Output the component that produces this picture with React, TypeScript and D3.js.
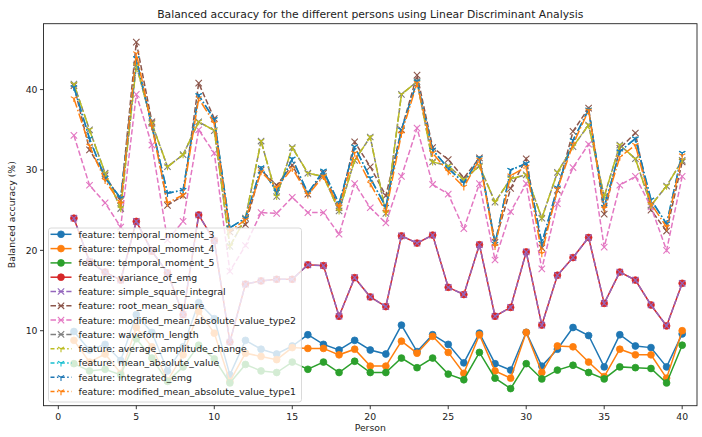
import React from "react";
import * as d3 from "d3";

const persons: number[] = Array.from({ length: 40 }, (_, i) => i + 1);
const xTicks = [0, 5, 10, 15, 20, 25, 30, 35, 40];
const yTicks = [10, 20, 30, 40];

const temporalMoment3 = [9.9, 7.6, 8.3, 6.3, 12.0, 9.8, 5.0, 8.0, 13.5, 11.5, 4.5, 8.8, 7.7, 7.1, 8.1, 9.5, 8.3, 7.6, 8.8, 7.6, 7.1, 10.7, 7.4, 9.5, 8.3, 6.0, 9.7, 5.9, 5.1, 9.8, 5.6, 7.7, 10.4, 9.4, 5.5, 9.5, 8.1, 7.9, 5.5, 9.6];
const temporalMoment4 = [8.8, 6.1, 7.1, 4.7, 10.4, 8.0, 3.8, 7.0, 12.4, 9.7, 3.7, 7.2, 6.8, 6.4, 7.9, 7.8, 7.8, 7.0, 7.7, 5.6, 5.6, 8.7, 7.2, 9.3, 7.3, 4.7, 9.5, 5.0, 4.1, 9.8, 4.8, 8.1, 8.0, 6.1, 4.3, 7.7, 7.0, 7.0, 4.1, 10.0];
const temporalMoment5 = [5.9, 5.0, 5.2, 4.5, 9.0, 6.6, 3.7, 5.5, 8.2, 6.5, 3.5, 5.8, 5.0, 4.8, 6.1, 5.2, 6.1, 4.8, 6.2, 4.8, 4.8, 6.6, 5.4, 6.6, 4.6, 3.9, 7.3, 4.1, 2.8, 5.9, 4.0, 5.1, 5.7, 4.8, 4.0, 5.5, 5.4, 5.3, 3.5, 8.2];
const varianceOfEmg = [24.0, 18.6, 17.3, 16.3, 23.6, 19.9, 17.2, 12.0, 24.4, 21.2, 8.6, 15.8, 16.2, 16.4, 16.4, 18.2, 18.1, 11.8, 16.6, 14.2, 13.0, 21.8, 20.9, 21.9, 15.4, 14.5, 20.7, 11.8, 12.9, 19.8, 10.7, 16.9, 19.1, 21.6, 13.4, 17.3, 16.3, 13.2, 10.6, 15.9];
const simpleSquareIntegral = varianceOfEmg.slice();
const rootMeanSquare = [40.5, 32.5, 29.3, 26.2, 45.9, 36.0, 25.6, 26.8, 40.8, 36.4, 22.3, 23.2, 30.0, 28.1, 30.6, 27.0, 29.6, 25.3, 33.5, 30.4, 26.8, 35.0, 41.8, 32.8, 31.3, 29.0, 31.5, 21.0, 27.7, 31.4, 20.3, 27.5, 34.8, 37.7, 24.5, 32.7, 34.6, 25.0, 22.4, 31.0];
const modifiedMav2 = [34.3, 28.1, 25.9, 22.9, 39.4, 33.1, 21.3, 23.6, 35.0, 32.1, 17.4, 20.6, 24.7, 24.6, 26.6, 24.7, 24.7, 22.0, 28.3, 25.3, 23.4, 29.2, 35.2, 28.2, 27.0, 22.7, 28.3, 18.8, 24.8, 28.3, 17.7, 25.8, 30.3, 33.2, 20.4, 28.1, 29.2, 25.4, 20.0, 29.2];
const averageAmplitudeChange = [40.7, 35.0, 29.6, 25.2, 43.0, 35.8, 30.4, 31.9, 36.0, 34.9, 20.5, 24.0, 33.6, 26.7, 32.8, 29.6, 29.2, 24.9, 31.2, 34.1, 24.6, 39.4, 41.0, 31.0, 30.5, 28.8, 30.5, 26.0, 28.9, 29.4, 24.0, 29.7, 32.9, 35.6, 26.7, 33.1, 31.4, 25.6, 28.0, 31.2];
const waveformLength = averageAmplitudeChange.slice();
const integratedEmg = [40.3, 33.9, 29.0, 26.5, 43.9, 35.4, 27.1, 27.5, 39.3, 36.3, 22.8, 24.0, 30.3, 27.3, 31.4, 27.1, 29.9, 25.8, 32.9, 29.0, 25.4, 35.0, 41.0, 32.5, 30.2, 28.4, 31.5, 20.8, 30.0, 30.8, 20.9, 27.8, 33.7, 37.5, 25.4, 32.3, 33.9, 26.3, 23.3, 32.1];
const meanAbsoluteValue = integratedEmg.slice();
const modifiedMav1 = [38.9, 33.0, 28.7, 25.8, 44.5, 35.4, 25.9, 26.9, 38.9, 35.8, 22.4, 23.8, 29.8, 27.8, 30.2, 26.9, 29.2, 25.4, 32.1, 28.3, 24.8, 34.5, 40.8, 32.1, 29.8, 27.9, 31.3, 20.5, 29.3, 30.4, 19.6, 27.6, 33.2, 37.4, 25.2, 31.6, 33.1, 25.8, 22.9, 31.8];

type Series = { name: string; values: number[]; color: string; dash: string; marker: "o" | "x" | "1" };

const series: Series[] = [
  { name: "feature: temporal_moment_3", values: temporalMoment3, color: "#1f77b4", dash: "", marker: "o" },
  { name: "feature: temporal_moment_4", values: temporalMoment4, color: "#ff7f0e", dash: "", marker: "o" },
  { name: "feature: temporal_moment_5", values: temporalMoment5, color: "#2ca02c", dash: "", marker: "o" },
  { name: "feature: variance_of_emg", values: varianceOfEmg, color: "#d62728", dash: "", marker: "o" },
  { name: "feature: simple_square_integral", values: simpleSquareIntegral, color: "#9467bd", dash: "5.5,2.4", marker: "x" },
  { name: "feature: root_mean_square", values: rootMeanSquare, color: "#8c564b", dash: "5.5,2.4", marker: "x" },
  { name: "feature: modified_mean_absolute_value_type2", values: modifiedMav2, color: "#e377c2", dash: "5.5,2.4", marker: "x" },
  { name: "feature: waveform_length", values: waveformLength, color: "#7f7f7f", dash: "5.5,2.4", marker: "x" },
  { name: "feature: average_amplitude_change", values: averageAmplitudeChange, color: "#bcbd22", dash: "9.6,2.4,1.5,2.4", marker: "1" },
  { name: "feature: mean_absolute_value", values: meanAbsoluteValue, color: "#17becf", dash: "9.6,2.4,1.5,2.4", marker: "1" },
  { name: "feature: integrated_emg", values: integratedEmg, color: "#1f77b4", dash: "9.6,2.4,1.5,2.4", marker: "1" },
  { name: "feature: modified_mean_absolute_value_type1", values: modifiedMav1, color: "#ff7f0e", dash: "9.6,2.4,1.5,2.4", marker: "1" },
];

const W = 702;
const H = 437;
const left = 43.5;
const right = 697;
const top = 23.7;
const bottom = 405.7;

const FONT = "DejaVu Sans, sans-serif";
const FS = 9.3;

function Marker({ kind, x, y, color }: { kind: string; x: number; y: number; color: string }) {
  if (kind === "o") return <circle cx={x} cy={y} r={3.4} fill={color} stroke={color} strokeWidth={0.8} />;
  if (kind === "x") {
    const s = 3.2;
    return (
      <path d={`M${x - s},${y - s}L${x + s},${y + s}M${x - s},${y + s}L${x + s},${y - s}`} stroke={color} strokeWidth={1.1} fill="none" />
    );
  }
  const s = 3.6;
  return (
    <path
      d={`M${x},${y}L${x},${y + s}M${x},${y}L${x - s * 0.866},${y - s * 0.5}M${x},${y}L${x + s * 0.866},${y - s * 0.5}`}
      stroke={color}
      strokeWidth={1.1}
      fill="none"
    />
  );
}

export default function App() {
  const x = d3.scaleLinear().domain([-0.95, 40.95]).range([left, right]);
  const y = d3.scaleLinear().domain([0.67, 48.2]).range([bottom, top]);
  const line = d3
    .line<number>()
    .x((_, i) => x(persons[i]))
    .y((d) => y(d));

  const legX = 48.5;
  const legY = 228;
  const legW = 253;
  const rowH = 14.3;
  const legH = 174;

  return (
    <svg width={W} height={H} style={{ position: "absolute", left: 0, top: 0, background: "#fff" }} fontFamily={FONT}>
      <rect x={0} y={0} width={W} height={H} fill="#fff" />
      <defs>
        <clipPath id="plot">
          <rect x={left} y={top} width={right - left} height={bottom - top} />
        </clipPath>
      </defs>
      <g clipPath="url(#plot)">
        {series.map((s) => (
          <g key={s.name}>
            <path d={line(s.values) || ""} fill="none" stroke={s.color} strokeWidth={1.5} strokeDasharray={s.dash || undefined} />
            {s.values.map((v, i) => (
              <Marker key={i} kind={s.marker} x={x(persons[i])} y={y(v)} color={s.color} />
            ))}
          </g>
        ))}
      </g>
      <rect x={left} y={top} width={right - left} height={bottom - top} fill="none" stroke="#222" strokeWidth={0.9} />
      {xTicks.map((t) => (
        <g key={t}>
          <line x1={x(t)} x2={x(t)} y1={bottom} y2={bottom + 3.5} stroke="#222" strokeWidth={0.9} />
          <text x={x(t)} y={bottom + 14} textAnchor="middle" fontSize={FS} fill="#222">
            {t}
          </text>
        </g>
      ))}
      {yTicks.map((t) => (
        <g key={t}>
          <line x1={left - 3.5} x2={left} y1={y(t)} y2={y(t)} stroke="#222" strokeWidth={0.9} />
          <text x={left - 6} y={y(t) + 3.4} textAnchor="end" fontSize={FS} fill="#222">
            {t}
          </text>
        </g>
      ))}
      <text x={(left + right) / 2} y={431} textAnchor="middle" fontSize={FS} fill="#222">
        Person
      </text>
      <text transform={`translate(15,${(top + bottom) / 2}) rotate(-90)`} textAnchor="middle" fontSize={FS} fill="#222">
        Balanced accuracy (%)
      </text>
      <text x={(left + right) / 2} y={17.5} textAnchor="middle" fontSize={10.8} fill="#222">
        Balanced accuracy for the different persons using Linear Discriminant Analysis
      </text>
      <g>
        <rect x={legX} y={legY} width={legW} height={legH} rx={2.5} fill="#fff" fillOpacity={0.8} stroke="#d0d0d0" strokeWidth={0.8} />
        {series.map((s, i) => {
          const cy = legY + 6.3 + i * rowH;
          return (
            <g key={s.name}>
              <line x1={legX + 2} x2={legX + 23} y1={cy} y2={cy} stroke={s.color} strokeWidth={1.5} strokeDasharray={s.dash ? (s.marker === "x" ? "5.5,2.4" : "4,2.4,1.5,2.4") : undefined} />
              <Marker kind={s.marker} x={legX + 12.5} y={cy} color={s.color} />
              <text x={legX + 30} y={cy + 3.4} fontSize={FS} fill="#222">
                {s.name}
              </text>
            </g>
          );
        })}
      </g>
    </svg>
  );
}
